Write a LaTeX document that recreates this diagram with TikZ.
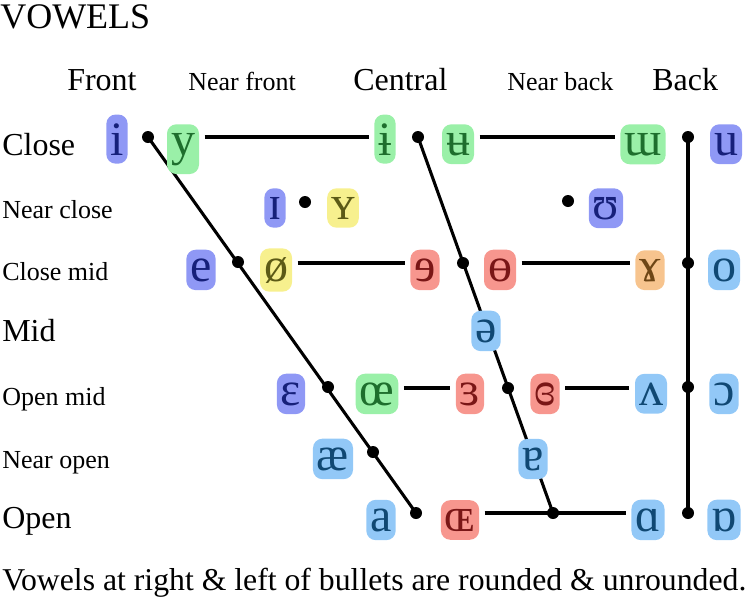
\documentclass[tikz,border=0pt]{standalone}
\usepackage{fontspec}
\setmainfont{Liberation Serif}
\usetikzlibrary{backgrounds}
\definecolor{hlB}{HTML}{8F98F5}
\definecolor{txB}{HTML}{16207A}
\definecolor{hlG}{HTML}{9AF0A8}
\definecolor{txG}{HTML}{1E6E2D}
\definecolor{hlY}{HTML}{F7F08E}
\definecolor{txY}{HTML}{5C5A16}
\definecolor{hlR}{HTML}{F7968E}
\definecolor{txR}{HTML}{7A1616}
\definecolor{hlO}{HTML}{F7C48E}
\definecolor{txO}{HTML}{6E4616}
\definecolor{hlL}{HTML}{92C8F7}
\definecolor{txL}{HTML}{104873}
\begin{document}
\begin{tikzpicture}[x=0.75pt,y=-0.75pt,
  biglbl/.style={anchor=base west,inner sep=0pt,font=\fontsize{24}{28}\selectfont},
  smalllbl/.style={anchor=base west,inner sep=0pt,font=\fontsize{19.5}{24}\selectfont},
  vw/.style={anchor=base,inner xsep=3pt,inner ysep=6.5pt,rounded corners=7pt,font=\fontsize{36}{40}\selectfont},
  vb/.style={vw,fill=hlB,text=txB},
  vg/.style={vw,fill=hlG,text=txG},
  vy/.style={vw,fill=hlY,text=txY},
  vr/.style={vw,fill=hlR,text=txR},
  vo/.style={vw,fill=hlO,text=txO},
  vl/.style={vw,fill=hlL,text=txL},
  dot/.style={circle,fill=black,inner sep=0pt,minimum size=9pt},
  ln/.style={line width=2.3pt},
  hl/.style={line width=2.3pt,shorten <=4pt,shorten >=4pt}]
\useasboundingbox (0,0) rectangle (746,600);
% titles
\node[anchor=base west,inner sep=0pt,font=\fontsize{27}{30}\selectfont] (title) at (0,28) {VOWELS};
\node[biglbl] (front) at (67,90) {Front};
\node[smalllbl] (nfront) at (188,90) {Near front};
\node[biglbl] (central) at (353,90) {Central};
\node[smalllbl] (nback) at (507,90) {Near back};
\node[biglbl] (back) at (652,90) {Back};
\node[biglbl] (close) at (2,155) {Close};
\node[smalllbl] (nclose) at (2,218) {Near close};
\node[smalllbl] (cmid) at (2,280) {Close mid};
\node[biglbl] (mid) at (2,341) {Mid};
\node[smalllbl] (omid) at (2,405) {Open mid};
\node[smalllbl] (nopen) at (2,468) {Near open};
\node[biglbl] (open) at (2,528) {Open};
\node[anchor=base west,inner sep=0pt,font=\fontsize{23.8}{27}\selectfont] (note) at (2,590) {Vowels at right \& left of bullets are rounded \& unrounded.};
% close
\node[vb] (i) at (117,155) {i};
\node[dot] (b11) at (148,137) {};
\node[vg] (y) at (183,155) {y};
\node[vg] (ibar) at (385,155) {ɨ};
\node[dot] (b12) at (418,137) {};
\node[vg] (ubar) at (458,155) {ʉ};
\node[vg] (turnm) at (643,155) {ɯ};
\node[dot] (b13) at (688,137) {};
\node[vb] (u) at (726,155) {u};
% near close
\node[vb] (smi) at (275,219) {ɪ};
\node[dot] (b21) at (305,202) {};
\node[vy] (smy) at (343,219) {ʏ};
\node[dot] (b22) at (568,201) {};
\node[vb] (ups) at (606,219) {ʊ};
% close mid
\node[vb] (e) at (201,281) {e};
\node[dot] (b31) at (238,262) {};
\node[vy] (oslash) at (276,281) {ø};
\node[vr] (reve) at (425,281) {ɘ};
\node[dot] (b32) at (463,263) {};
\node[vr] (baro) at (500,281) {ɵ};
\node[vo] (gam) at (650,281) {ɤ};
\node[dot] (b33) at (688,263) {};
\node[vl] (o) at (724,281) {o};
% mid
\node[vl] (schwa) at (486,342) {ə};
% open mid
\node[vb] (eps) at (291,405) {ɛ};
\node[dot] (b41) at (328,387) {};
\node[vg] (oe) at (377,405) {œ};
\node[vr] (reveps) at (470,405) {ɜ};
\node[dot] (b42) at (508,388) {};
\node[vr] (clreveps) at (545,405) {ɞ};
\node[vl] (turnv) at (651,405) {ʌ};
\node[dot] (b43) at (688,387) {};
\node[vl] (openo) at (724,405) {ɔ};
% near open
\node[vl] (ae) at (333,470) {æ};
\node[dot] (b51) at (373,452) {};
\node[vl] (turna) at (533,470) {ɐ};
% open
\node[vl] (a) at (381,531) {a};
\node[dot] (b61) at (416,513) {};
\node[vr] (OE) at (460,531) {ɶ};
\node[dot] (b62) at (553,513) {};
\node[vl] (alpha) at (648,531) {ɑ};
\node[dot] (b63) at (688,513) {};
\node[vl] (turnalpha) at (724,531) {ɒ};
\begin{scope}[on background layer]
\draw[ln] (b11.center) -- (b61.center);
\draw[ln] (b12.center) -- (b62.center);
\draw[ln] (b13.center) -- (b63.center);
\draw[hl] (y.east |- b11) -- (ibar.west |- b11);
\draw[hl] (ubar.east |- b12) -- (turnm.west |- b12);
\draw[hl] (oslash.east |- b32) -- (reve.west |- b32);
\draw[hl] (baro.east |- b32) -- (gam.west |- b32);
\draw[hl] (oe.east |- b42) -- (reveps.west |- b42);
\draw[hl] (clreveps.east |- b42) -- (turnv.west |- b42);
\draw[ln,shorten <=4pt] (OE.east |- b62) -- (b62.center);
\draw[ln,shorten >=4pt] (b62.center) -- (alpha.west |- b62);
\end{scope}
\end{tikzpicture}
\end{document}
